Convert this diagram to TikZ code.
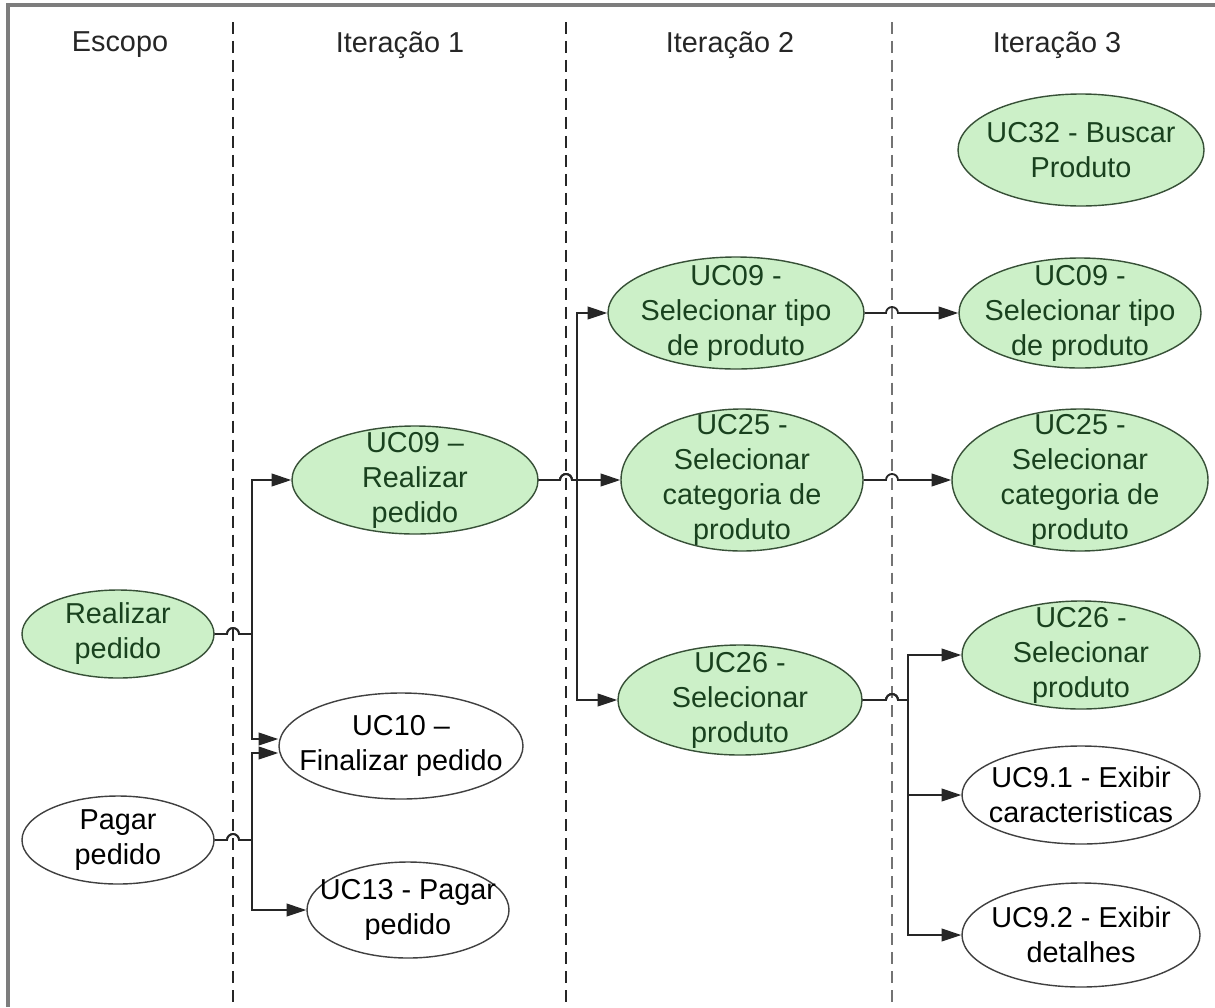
\documentclass[tikz,border=0pt]{standalone}
\usepackage{fontspec}
\setmainfont{Liberation Sans}
\usetikzlibrary{shapes.geometric, arrows.meta, positioning, calc}
\definecolor{ucfill}{RGB}{204,240,200}
\definecolor{ucdraw}{RGB}{55,80,55}
\definecolor{uctext}{RGB}{25,65,30}
\definecolor{framegray}{RGB}{125,125,125}

\begin{document}
\begin{tikzpicture}[
    x=0.025cm, y=-0.025cm,
    >={Triangle[length=14pt, width=9pt]},
    % Use case styles
    usecase/.style={
        ellipse, draw=ucdraw, line width=1pt,
        inner xsep=-1.5cm, inner ysep=-1cm,
        align=center, font=\fontsize{20.5}{24.9}\selectfont
    },
    ucgreen/.style={usecase, fill=ucfill, text=uctext},
    ucwhite/.style={usecase, draw=black!75, fill=white, text=black},
    ucsize/.style 2 args={minimum width=#1*0.025cm, minimum height=#2*0.025cm},
    header/.style={font=\fontsize{20.5}{24.9}\selectfont, text=black!85},
    lane/.style={dash pattern=on 8.5pt off 5pt, line width=1pt},
    conn/.style={->, line width=1.3pt, color=black!85},
]

% ===== CANVAS =====
\useasboundingbox (0,0) rectangle (1215,1007);
\fill[white] (0,0) rectangle (1215,1007);
\draw[framegray, line width=2.2pt] (8,1007) -- (8,5) -- (1215,5);

% ===== LANES =====
\coordinate (d1) at (233,22);
\coordinate (d2) at (566,22);
\coordinate (d3) at (892,22);
\draw[lane, black!85] (d1) -- (d1 |- 0,1007);
\draw[lane, black!85] (d2) -- (d2 |- 0,1007);
\draw[lane, black!55, line width=1.4pt] (d3) -- (d3 |- 0,1007);

% trunk positions
\coordinate (t1) at (252,0);
\coordinate (t2) at (577,0);
\coordinate (t3) at (908,0);

% ===== HEADERS =====
\node[header] (hesc) at (120,45) {Escopo};
\node[header] (hit1) at (400,45) {Iteração 1};
\node[header] (hit2) at (730,45) {Iteração 2};
\node[header] (hit3) at (1057,45) {Iteração 3};

% ===== ESCOPO =====
\node[ucgreen, ucsize={192}{88}] (realizar) at (118,634) {Realizar\\pedido};
\node[ucwhite, ucsize={192}{88}] (pagar) at (118,840) {Pagar\\pedido};

% ===== ITERACAO 1 =====
\node[ucgreen, ucsize={246}{108}] (uc09r) at (415,480) {UC09 –\\Realizar\\pedido};
\node[ucwhite, ucsize={244}{106}] (uc10) at (401,746) {UC10 –\\Finalizar pedido};
\node[ucwhite, ucsize={202}{96}] (uc13) at (408,910) {UC13 - Pagar\\pedido};

% ===== ITERACAO 2 =====
\node[ucgreen, ucsize={256}{112}] (uc09t) at (736,313) {UC09 -\\Selecionar tipo\\de produto};
\node[ucgreen, ucsize={242}{142}] (uc25t) at (742,480) {UC25 -\\Selecionar\\categoria de\\produto};
\node[ucgreen, ucsize={244}{110}] (uc26p) at (740,700) {UC26 -\\Selecionar\\produto};

% ===== ITERACAO 3 =====
\node[ucgreen, ucsize={246}{112}] (uc32) at (1081,150) {UC32 - Buscar\\Produto};
\node[ucgreen, ucsize={242}{110}] (uc09ti) at (1080,313) {UC09 -\\Selecionar tipo\\de produto};
\node[ucgreen, ucsize={256}{142}] (uc25ti) at (1080,480) {UC25 -\\Selecionar\\categoria de\\produto};
\node[ucgreen, ucsize={238}{108}] (uc26i) at (1081,655) {UC26 -\\Selecionar\\produto};
\node[ucwhite, ucsize={238}{98}] (uc91) at (1081,795) {UC9.1 - Exibir\\caracteristicas};
\node[ucwhite, ucsize={238}{104}] (uc92) at (1081,935) {UC9.2 - Exibir\\detalhes};

% ===== ARROWS =====
% Escopo to iteration 1
\draw[conn] (realizar.east) -- ($(d1 |- realizar.east)+(-6,0)$) arc[start angle=180, end angle=0, radius=0.15cm]
    -- (t1 |- realizar.east) |- (uc09r.west);
\draw[conn] (realizar.east) -- ($(d1 |- realizar.east)+(-6,0)$) arc[start angle=180, end angle=0, radius=0.15cm]
    -- (t1 |- realizar.east) |- ([yshift=0.175cm]uc10.west);
\draw[conn] (pagar.east) -- ($(d1 |- pagar.east)+(-6,0)$) arc[start angle=180, end angle=0, radius=0.15cm]
    -- (t1 |- pagar.east) |- ([yshift=-0.175cm]uc10.west);
\draw[conn] (pagar.east) -- ($(d1 |- pagar.east)+(-6,0)$) arc[start angle=180, end angle=0, radius=0.15cm]
    -- (t1 |- pagar.east) |- (uc13.west);

% Iteration 1 to iteration 2
\draw[conn] (uc09r.east) -- ($(d2 |- uc09r.east)+(-6,0)$) arc[start angle=180, end angle=0, radius=0.15cm]
    -- (t2 |- uc09r.east) |- (uc09t.west);
\draw[conn] (uc09r.east) -- ($(d2 |- uc09r.east)+(-6,0)$) arc[start angle=180, end angle=0, radius=0.15cm]
    -- (t2 |- uc09r.east) |- (uc25t.west);
\draw[conn] (uc09r.east) -- ($(d2 |- uc09r.east)+(-6,0)$) arc[start angle=180, end angle=0, radius=0.15cm]
    -- (t2 |- uc09r.east) |- (uc26p.west);

% Iteration 2 to iteration 3
\draw[conn] (uc09t.east) -- ($(d3 |- uc09t.east)+(-6,0)$) arc[start angle=180, end angle=0, radius=0.15cm]
    -- (uc09ti.west);
\draw[conn] (uc25t.east) -- ($(d3 |- uc25t.east)+(-6,0)$) arc[start angle=180, end angle=0, radius=0.15cm]
    -- (uc25ti.west);
\draw[conn] (uc26p.east) -- ($(d3 |- uc26p.east)+(-6,0)$) arc[start angle=180, end angle=0, radius=0.15cm]
    -- (t3 |- uc26p.east) |- (uc26i.west);
\draw[conn] (uc26p.east) -- ($(d3 |- uc26p.east)+(-6,0)$) arc[start angle=180, end angle=0, radius=0.15cm]
    -- (t3 |- uc26p.east) |- (uc91.west);
\draw[conn] (uc26p.east) -- ($(d3 |- uc26p.east)+(-6,0)$) arc[start angle=180, end angle=0, radius=0.15cm]
    -- (t3 |- uc26p.east) |- (uc92.west);

\end{tikzpicture}
\end{document}
